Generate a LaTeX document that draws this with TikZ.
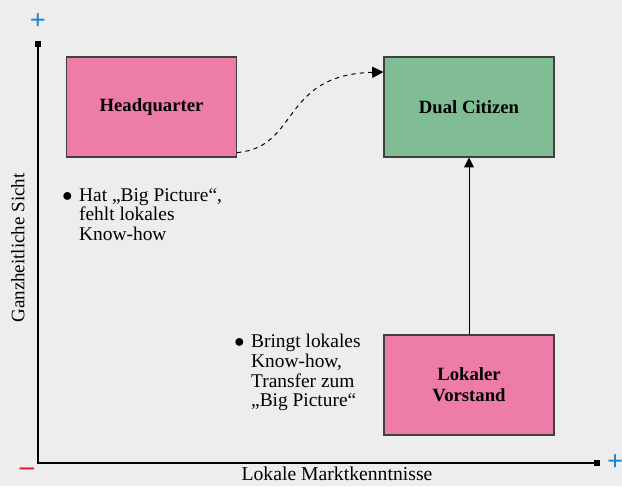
\documentclass[tikz,border=0pt]{standalone}
\usepackage{fontspec}
\setmainfont{Liberation Serif}
\usetikzlibrary{arrows.meta}
\definecolor{bgray}{HTML}{ECEDEC}
\definecolor{rosa}{HTML}{EE7CA9}
\definecolor{gruen}{HTML}{80BD94}
\definecolor{plusblau}{HTML}{1E88CF}
\definecolor{minusrot}{HTML}{D8202F}
\newcommand{\punkt}{\makebox[12pt][l]{$\bullet$}}
\newcommand{\einr}{\hspace*{12pt}}
\begin{document}
\begin{tikzpicture}[x=0.025cm,y=-0.025cm]
		\tikzstyle{box}=[draw=black!75,line width=0.8pt,minimum width=4.25cm,minimum height=2.5cm,font=\fontsize{13.3}{15}\selectfont\bfseries,align=center]
		\tikzstyle{note}=[align=left,anchor=north west,inner sep=0pt,font=\fontsize{13.8}{14}\selectfont]
		\tikzstyle{zeichen}=[font=\fontsize{20}{20}\selectfont\bfseries]
		
		\useasboundingbox (0,0) rectangle (622,486);
		\fill[bgray] (0,0) rectangle (622,486);
		
		\coordinate (o) at (38,463);
		\coordinate (ytop) at (38,44);
		\coordinate (xend) at (597,463);
		
		\node[box,fill=rosa] (hq) at (151.5,107) {Headquarter};
		\node[box,fill=gruen] (dc) at (469,107) {Dual Citizen};
		\node[box,fill=rosa] (lv) at (469,385) {Lokaler\\Vorstand};
		
		\node[note] (n1) at (62,188) {\punkt Hat „Big Picture“,\\\einr fehlt lokales\\\einr Know-how};
		\node[note] (n2) at (234,334) {\punkt Bringt lokales\\\einr Know-how,\\\einr Transfer zum\\\einr „Big Picture“};
		
		\node[zeichen,text=plusblau] (yplus) at (38,22) {+};
		\node[zeichen,text=plusblau] (xplus) at (615,463) {+};
		\node[zeichen,text=minusrot] (minus) at (27,472) {--};
		
		\node[rotate=90,font=\fontsize{13.5}{15}\selectfont] (ylab) at (18,248) {Ganzheitliche Sicht};
		\node[font=\fontsize{14}{15}\selectfont] (xlab) at (337,474) {Lokale Marktkenntnisse};
		
		\draw[line width=0.8pt] (ytop) -- (o) -- (xend);
		\fill (ytop) +(-3,-3) rectangle +(3,3);
		\fill (xend) +(-3,-3) rectangle +(3,3);
		
		\draw[-{Triangle[length=7pt,width=7pt]},line width=0.7pt] (lv.north) -- (dc.south);
		\draw[-{Triangle[length=8pt,width=8pt]},dashed,line width=0.7pt] (hq.south east) ++(0,-5) coordinate (s) (s) .. controls (300,147) and (280,75) .. (dc.north west |- 0,72);
	\end{tikzpicture}
\end{document}
